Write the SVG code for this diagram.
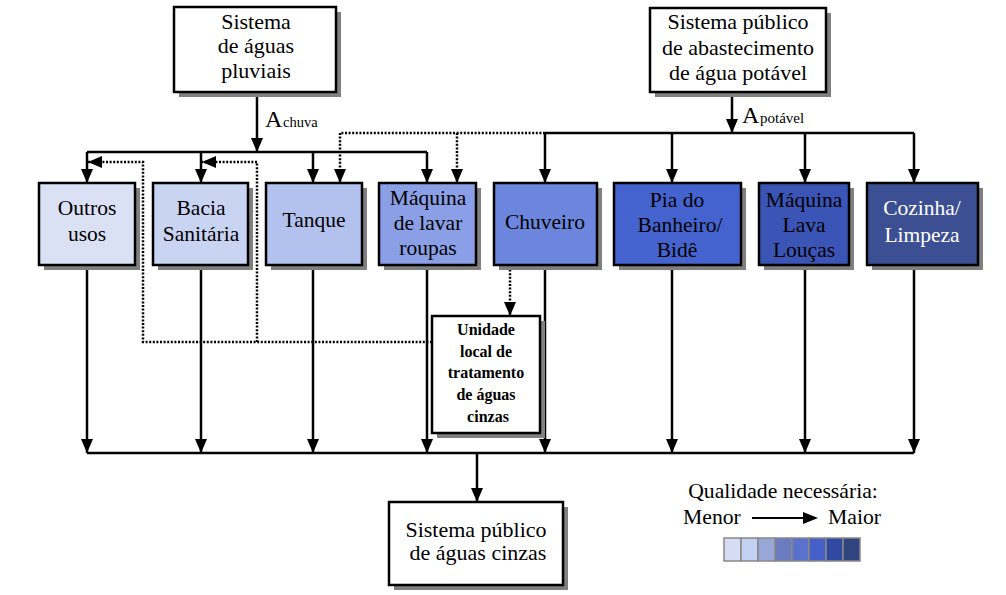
<svg xmlns="http://www.w3.org/2000/svg" width="1006" height="595" viewBox="0 0 1006 595" font-family="'Liberation Serif', 'DejaVu Serif', serif">
<style>
text{font-family:'Liberation Serif','DejaVu Serif',serif;fill:#000}
.t{font-size:22px;text-anchor:middle}
.r{font-size:21.5px;text-anchor:middle}
.w{fill:#fff}
.u{font-size:16px;text-anchor:middle;font-weight:bold}
.box{stroke:#000;stroke-width:2.5}
.sh{fill:#808080}
.c{fill:none;stroke:#000;stroke-width:2.5}
.d{fill:none;stroke:#000;stroke-width:2.5;stroke-dasharray:2 1.6}
.sw{stroke:#888;stroke-width:1.5}
</style>
<defs>
<marker id="ah" markerUnits="userSpaceOnUse" markerWidth="14" markerHeight="14" viewBox="0 0 14 14" refX="14" refY="7" orient="auto">
<path d="M0,1 L14,7 L0,13 Z" fill="#000"/>
</marker>
</defs>
<rect width="1006" height="595" fill="#fff"/>

<g id="connectors">
<path class="c" d="M257,92 V152" marker-end="url(#ah)"/>
<path class="c" d="M87,152 H427"/>
<path class="c" d="M87,152 V183" marker-end="url(#ah)"/>
<path class="c" d="M201,152 V183" marker-end="url(#ah)"/>
<path class="c" d="M313,152 V183" marker-end="url(#ah)"/>
<path class="c" d="M427,152 V183" marker-end="url(#ah)"/>
<path class="c" d="M732,92 V133" marker-end="url(#ah)"/>
<path class="c" d="M545,133 H914"/>
<path class="c" d="M545,133 V183" marker-end="url(#ah)"/>
<path class="c" d="M672,133 V183" marker-end="url(#ah)"/>
<path class="c" d="M805,133 V183" marker-end="url(#ah)"/>
<path class="c" d="M914,133 V183" marker-end="url(#ah)"/>
<path class="d" d="M545,133 H340"/>
<path class="d" d="M340,133 V183" marker-end="url(#ah)"/>
<path class="d" d="M457,133 V183" marker-end="url(#ah)"/>
<path class="d" d="M510,266 V316" marker-end="url(#ah)"/>
<path class="d" d="M432,342 H143 V162 H88" marker-end="url(#ah)"/>
<path class="d" d="M257,342 V162 H202" marker-end="url(#ah)"/>
<path class="c" d="M87,267 V453" marker-end="url(#ah)"/>
<path class="c" d="M201,267 V453" marker-end="url(#ah)"/>
<path class="c" d="M313,267 V453" marker-end="url(#ah)"/>
<path class="c" d="M427,267 V453" marker-end="url(#ah)"/>
<path class="c" d="M545,267 V453" marker-end="url(#ah)"/>
<path class="c" d="M672,267 V453" marker-end="url(#ah)"/>
<path class="c" d="M805,267 V453" marker-end="url(#ah)"/>
<path class="c" d="M914,267 V453" marker-end="url(#ah)"/>
<path class="c" d="M87,453 H914"/>
<path class="c" d="M477,453 V502" marker-end="url(#ah)"/>
</g>

<g id="lbl-chuva"><text x="265" y="127" font-size="24">A</text><text x="283" y="127" font-size="14.5">chuva</text></g>
<g id="lbl-potavel"><text x="742" y="123" font-size="24">A</text><text x="760" y="123" font-size="15">potável</text></g>

<g id="n-pluviais">
<rect class="sh" x="179" y="12" width="162" height="85"/>
<rect class="box" x="174" y="7" width="162" height="85" fill="#fff"/>
<text class="t" x="256" y="29">Sistema</text>
<text class="t" x="256" y="53">de águas</text>
<text class="t" x="256" y="78">pluviais</text>
</g>

<g id="n-abastecimento">
<rect class="sh" x="655" y="13" width="176" height="84"/>
<rect class="box" x="650" y="8" width="176" height="84" fill="#fff"/>
<text class="t" x="738" y="29">Sistema público</text>
<text class="t" x="738" y="55">de abastecimento</text>
<text class="t" x="738" y="80">de água potável</text>
</g>

<g id="n-outros">
<rect class="sh" x="44" y="188" width="96" height="82"/>
<rect class="box" x="39" y="183" width="96" height="82" fill="#dbe1f5"/>
<text class="r" x="87" y="215">Outros</text>
<text class="r" x="87" y="241">usos</text>
</g>
<g id="n-bacia">
<rect class="sh" x="158" y="188" width="95" height="82"/>
<rect class="box" x="153" y="183" width="95" height="82" fill="#c9d3f2"/>
<text class="r" x="201" y="215">Bacia</text>
<text class="r" x="201" y="241">Sanitária</text>
</g>
<g id="n-tanque">
<rect class="sh" x="271" y="188" width="96" height="82"/>
<rect class="box" x="266" y="183" width="96" height="82" fill="#b3c1ee"/>
<text class="r" x="314" y="227">Tanque</text>
</g>
<g id="n-maquina">
<rect class="sh" x="384" y="188" width="97" height="82"/>
<rect class="box" x="379" y="183" width="97" height="82" fill="#8a9fe6"/>
<text class="r" x="428" y="205">Máquina</text>
<text class="r" x="428" y="230">de lavar</text>
<text class="r" x="428" y="255">roupas</text>
</g>
<g id="n-chuveiro">
<rect class="sh" x="499" y="188" width="103" height="82"/>
<rect class="box" x="494" y="183" width="103" height="82" fill="#6b86dc"/>
<text class="r" x="545" y="229">Chuveiro</text>
</g>
<g id="n-pia">
<rect class="sh" x="619" y="188" width="127" height="82"/>
<rect class="box" x="614" y="183" width="127" height="82" fill="#4563ce"/>
<text class="r" x="677" y="207">Pia do</text>
<text class="r" x="680" y="232">Banheiro/</text>
<text class="r" x="677" y="257">Bidê</text>
</g>
<g id="n-lavalouca">
<rect class="sh" x="764" y="188" width="90" height="82"/>
<rect class="box" x="759" y="183" width="90" height="82" fill="#3b55b6"/>
<text class="r" x="804" y="207">Máquina</text>
<text class="r" x="804" y="232">Lava</text>
<text class="r" x="804" y="257">Louças</text>
</g>
<g id="n-cozinha">
<rect class="sh" x="872" y="188" width="111" height="82"/>
<rect class="box" x="867" y="183" width="111" height="82" fill="#3c4f92"/>
<text class="r w" x="922" y="215">Cozinha/</text>
<text class="r w" x="922" y="242">Limpeza</text>
</g>

<g id="n-unidade">
<rect class="sh" x="437" y="321" width="108" height="117"/>
<rect class="box" x="432" y="316" width="108" height="117" fill="#fff"/>
<text class="u" x="486" y="335">Unidade</text>
<text class="u" x="486" y="357">local de</text>
<text class="u" x="486" y="378">tratamento</text>
<text class="u" x="486" y="400">de águas</text>
<text class="u" x="488" y="422">cinzas</text>
</g>

<g id="n-cinzas">
<rect class="sh" x="394" y="507" width="174" height="83"/>
<rect class="box" x="389" y="502" width="174" height="83" fill="#fff"/>
<text class="t" x="476" y="537">Sistema público</text>
<text class="t" x="478" y="560">de águas cinzas</text>
</g>

<g id="legend">
<text x="783" y="498" font-size="21.7" text-anchor="middle">Qualidade necessária:</text>
<text x="683" y="524" font-size="21.7">Menor</text>
<text x="828" y="524" font-size="21.7">Maior</text>
<path d="M752,518 H806" stroke="#000" stroke-width="2.2" fill="none"/>
<path d="M803,512 L818,518 L803,524 Z" fill="#000"/>
<rect class="sw" x="724" y="538" width="17" height="23" fill="#d6dcf3"/>
<rect class="sw" x="741" y="538" width="17" height="23" fill="#c5d1f2"/>
<rect class="sw" x="758" y="538" width="17" height="23" fill="#98a6d8"/>
<rect class="sw" x="775" y="538" width="17" height="23" fill="#6a7bbf"/>
<rect class="sw" x="792" y="538" width="17" height="23" fill="#5a72cb"/>
<rect class="sw" x="809" y="538" width="17" height="23" fill="#4560c8"/>
<rect class="sw" x="826" y="538" width="17" height="23" fill="#2f4aa0"/>
<rect class="sw" x="843" y="538" width="17" height="23" fill="#32447f"/>
</g>
</svg>
